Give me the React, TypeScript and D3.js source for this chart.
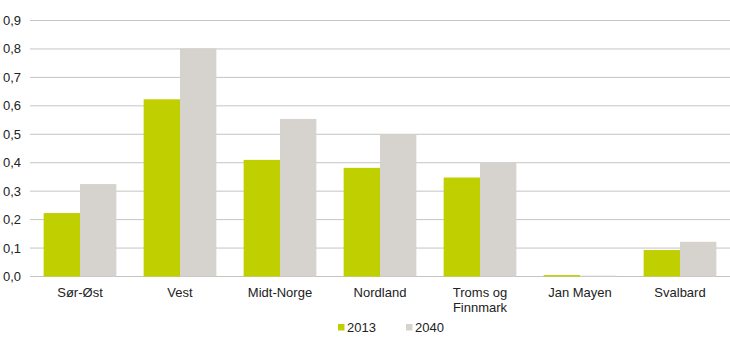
import React from "react";
import * as d3 from "d3";

const categories = ["Sør-Øst", "Vest", "Midt-Norge", "Nordland", "Troms og\nFinnmark", "Jan Mayen", "Svalbard"];
const series2013 = [0.223, 0.623, 0.41, 0.382, 0.348, 0.005, 0.093];
const series2040 = [0.325, 0.802, 0.554, 0.501, 0.399, 0.003, 0.122];
const seriesNames = ["2013", "2040"];
const yTicks = [0, 0.1, 0.2, 0.3, 0.4, 0.5, 0.6, 0.7, 0.8, 0.9];

const colors = ["#c0cf00", "#d6d2cd"];
const W = 730, H = 350;
const left = 30, right = 730, top = 20.5, bottom = 276.5;
const font = "'Liberation Sans', Arial, sans-serif";

export default function App() {
  const x = d3.scaleBand<number>().domain(d3.range(categories.length)).range([left, right]).paddingInner(0).paddingOuter(0);
  const bw = x.bandwidth();
  const barW = bw / 2.75;
  const off = (bw - 2 * barW) / 2;
  const y = d3.scaleLinear().domain([0, 0.9]).range([bottom, top]);
  const fmt = (v: number) => d3.format(".1f")(v).replace(".", ",");
  const data = [series2013, series2040];
  return (
    <svg width={W} height={H} style={{ position: "absolute", left: 0, top: 0 }} fontFamily={font}>
      {yTicks.map((t) => (
        <g key={t}>
          <line x1={left} x2={right} y1={y(t)} y2={y(t)} stroke="#c4c4c4" strokeWidth={1} />
          <text x={21} y={y(t)} dy="0.35em" textAnchor="end" fontSize={13} fill="#222">{fmt(t)}</text>
        </g>
      ))}
      {data.map((s, si) =>
        s.map((v, i) => (
          <rect key={si + "-" + i} x={(x(i) as number) + off + si * barW} y={y(v)} width={barW} height={Math.max(0, y(0) - y(v))} fill={colors[si]} />
        ))
      )}
      {categories.map((c, i) => (
        <text key={c} x={(x(i) as number) + bw / 2} y={297} textAnchor="middle" fontSize={13} fill="#222">
          {c.split("\n").map((line, li) => (
            <tspan key={li} x={(x(i) as number) + bw / 2} dy={li === 0 ? 0 : 14.5}>{line}</tspan>
          ))}
        </text>
      ))}
      {seriesNames.map((n, si) => {
        const lx = [338, 406][si];
        return (
          <g key={n}>
            <rect x={lx} y={324} width={6.5} height={6.5} fill={colors[si]} />
            <text x={lx + 9} y={327.5} dy="0.35em" fontSize={13} fill="#222">{n}</text>
          </g>
        );
      })}
    </svg>
  );
}
